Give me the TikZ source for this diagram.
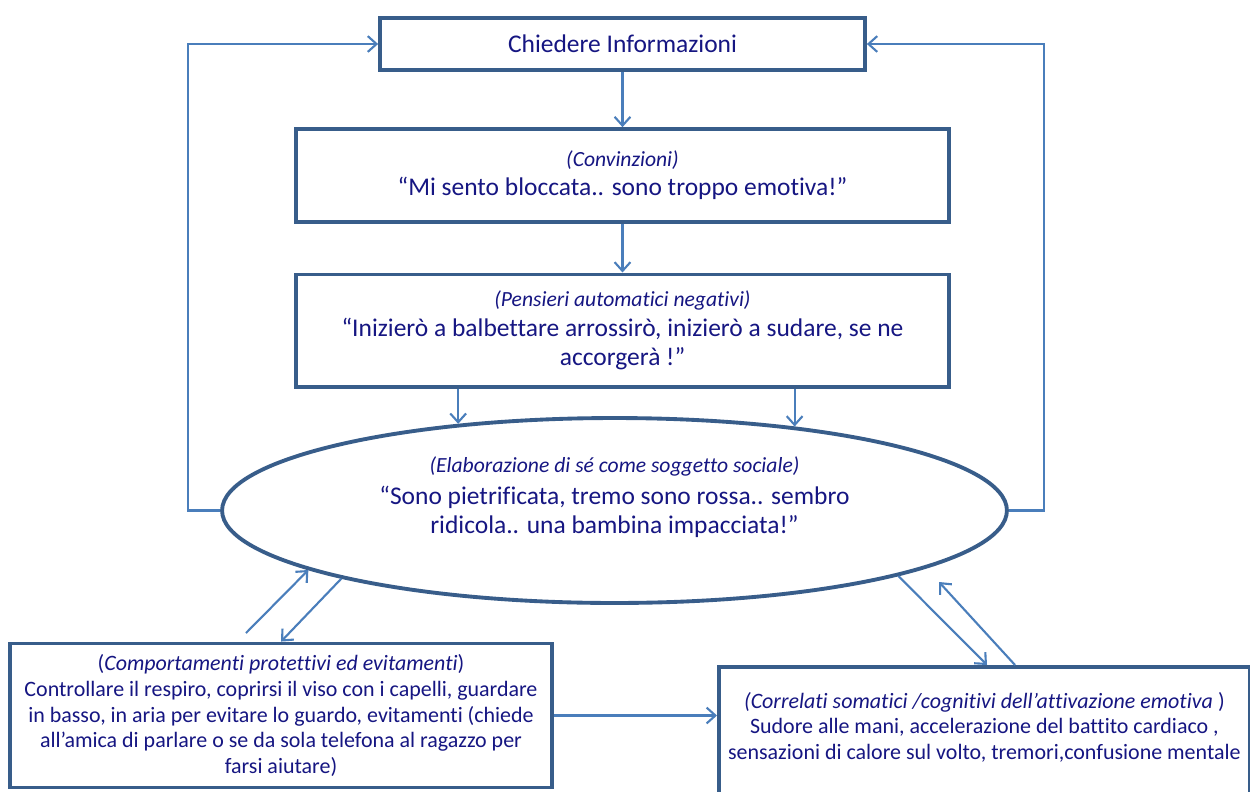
\documentclass[tikz,border=0pt]{standalone}
\usepackage{fontspec}
\setmainfont{Carlito}[Ligatures=NoCommon]
\usetikzlibrary{positioning,calc,shapes.geometric,arrows.meta}
\definecolor{BoxBlue}{RGB}{56,93,138}
\definecolor{ArrBlue}{RGB}{74,126,187}
\definecolor{InkNavy}{RGB}{22,22,130}
\newcommand{\lbl}[1]{{\fontsize{12.3}{14}\selectfont\itshape #1}}
\tikzset{
	box/.style={draw=BoxBlue,line width=2.2pt,fill=white,inner sep=4pt,align=center,text=InkNavy},
	oval/.style={ellipse,draw=BoxBlue,line width=2.2pt,fill=white,inner sep=0pt},
	arr/.style={draw=ArrBlue,line width=1.2pt,-{Straight Barb[length=5pt,width=9pt]}},
	big/.style={font=\fontsize{14.5}{16.8}\selectfont},
	small/.style={font=\fontsize{12.5}{14.6}\selectfont},
}

\begin{document}
\begin{tikzpicture}[x=0.02cm,y=-0.02cm]
	\clip (0,0) rectangle (1250,791);
	\fill[white] (0,0) rectangle (1250,791);
	\node[box,big,minimum width=9.7cm,minimum height=1.05cm] (info) at (622.5,44) {Chiedere Informazioni};
	\node[box,big,minimum width=13.06cm,minimum height=1.85cm,below=1.1cm of info] (convinzioni) {\lbl{(Convinzioni)}\\“Mi sento bloccata.. sono troppo emotiva!”};
	\node[box,big,minimum width=13.06cm,minimum height=2.25cm,below=0.98cm of convinzioni] (pensieri) {\lbl{(Pensieri automatici negativi)}\\“Inizierò a balbettare arrossirò, inizierò a sudare, se ne\\accorgerà !”};
	\node[oval,minimum width=15.7cm,minimum height=3.7cm] (elabora) at (614.5,510.5) {};
	\node[big,text=InkNavy,align=center] (elaboraTxt) at ($(elabora.center)+(0,-13)$) {\lbl{(Elaborazione di sé come soggetto sociale)}\\[1pt]“Sono pietrificata, tremo sono rossa.. sembro\\ridicola.. una bambina impacciata!”};
	\node[box,small,minimum width=10.84cm,minimum height=2.88cm] (comport) at (281,715.5) {(\textit{Comportamenti protettivi ed evitamenti})\\Controllare il respiro, coprirsi il viso con i capelli, guardare\\in basso, in aria per evitare lo guardo, evitamenti (chiede\\all’amica di parlare o se da sola telefona al ragazzo per\\farsi aiutare)};
	\node[box,minimum width=10.62cm,minimum height=3.4cm,anchor=north west] (somatici) at (717,665) {};
	\node[small,text=InkNavy,align=center,below=0.42cm of somatici.north] (somaticiTxt) {\textit{(Correlati somatici /cognitivi dell’attivazione emotiva} )\\Sudore alle mani, accelerazione del battito cardiaco ,\\sensazioni di calore sul volto, tremori,confusione mentale};
	% vertical chain
	\draw[arr] (info) -- (convinzioni);
	\draw[arr] (convinzioni) -- (pensieri);
	\draw[arr] (pensieri.south -| elabora.151) -- (elabora.151);
	\draw[arr] (pensieri.south -| elabora.25) -- (elabora.25);
	% loops back to the top
	\draw[arr] (elabora.west) -- ++(-32,0) |- (info.west);
	\draw[arr] (elabora.east) -- ++(35,0) |- (info.east);
	% bottom exchanges
	\coordinate (protTail) at (246,633);
	\coordinate (somTip) at (939,582);
	\draw[arr] (protTail) -- (elabora.191);
	\draw[arr] (elabora.194) -- (comport.north);
	\draw[arr] (elabora.-13) -- ($(somatici.north west)+(270,0)$);
	\draw[arr] ($(somatici.north west)+(298,0)$) -- (somTip);
	\draw[arr] (comport.east) -- (comport.east -| somatici.west);
\end{tikzpicture}
\end{document}
